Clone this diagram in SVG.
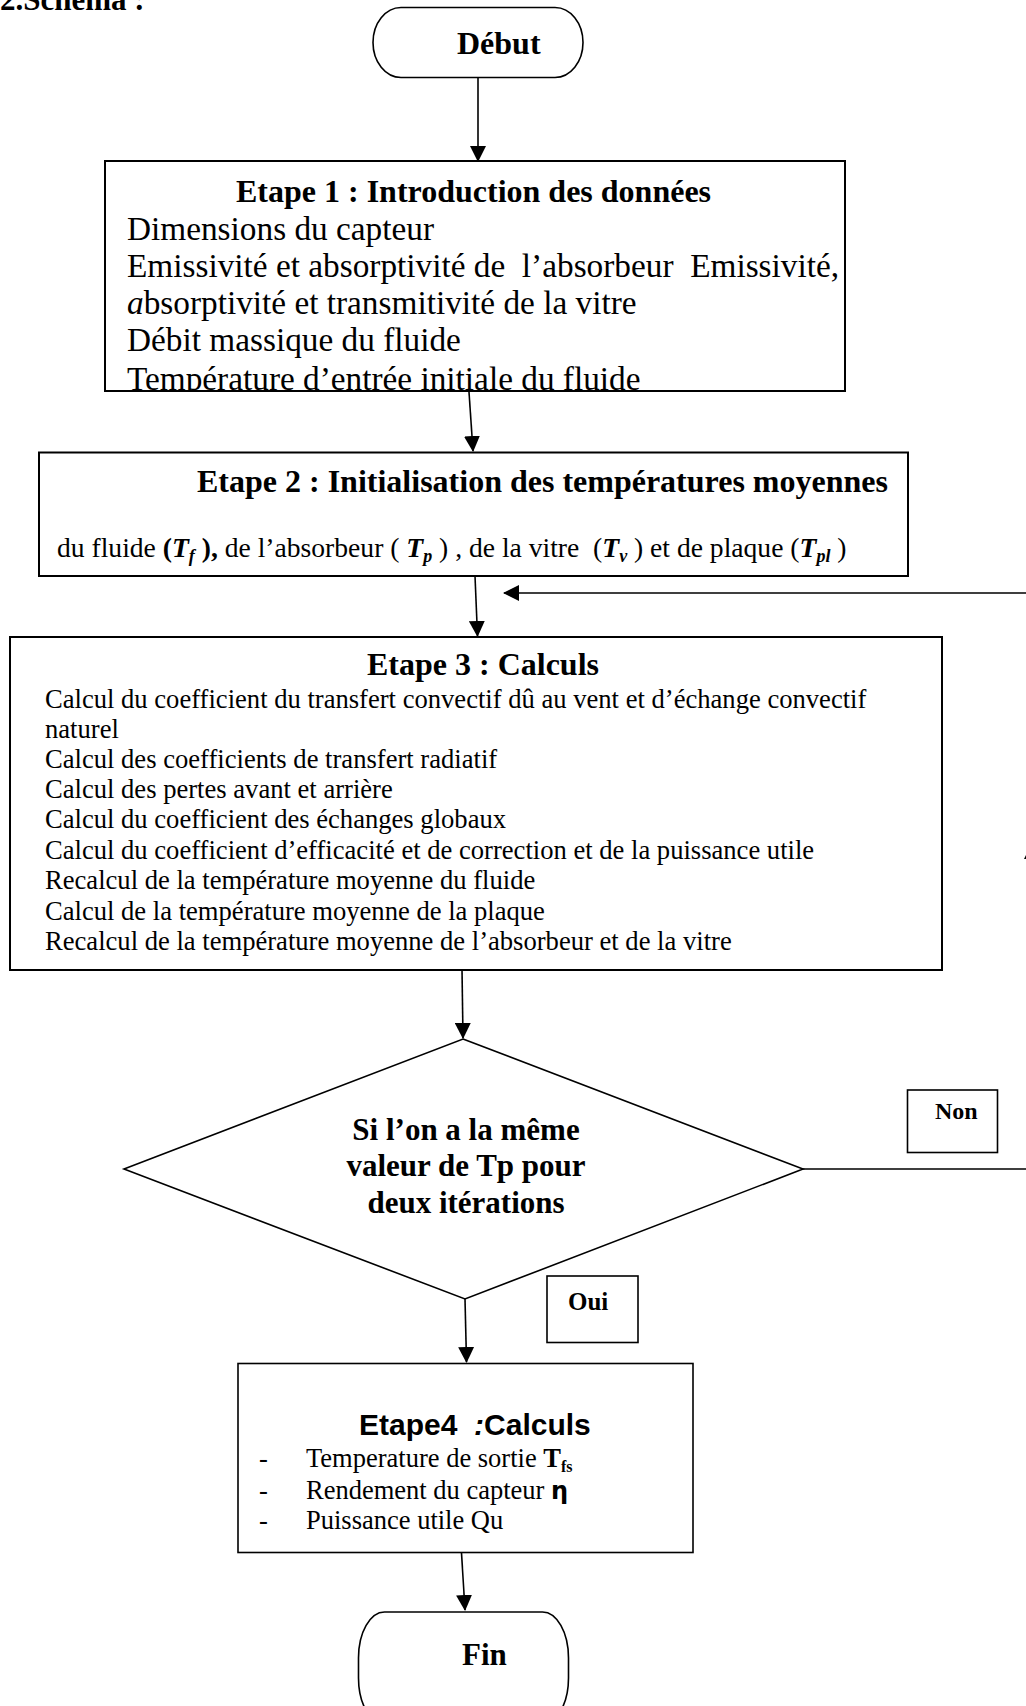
<svg xmlns="http://www.w3.org/2000/svg" width="1026" height="1706" viewBox="0 0 1026 1706">
<style>
.bg{fill:#fff}
.box{fill:#fff;stroke:#000;stroke-width:2}
.thin{fill:#fff;stroke:#000;stroke-width:1.6}
.con{fill:none;stroke:#000;stroke-width:1.6}
.tb{font-family:"Liberation Serif","Times New Roman",serif;font-weight:bold;fill:#000}
.tr{font-family:"Liberation Serif","Times New Roman",serif;fill:#000}
.sans{font-family:"Liberation Sans",Arial,sans-serif;font-weight:bold;fill:#000}
.e1{font-size:33.3px}
.e3{font-size:26.6px}
.e4{font-size:26.5px}
.ttl{font-size:32px}
</style>
<defs>
<marker id="ah" markerUnits="userSpaceOnUse" markerWidth="16" markerHeight="16" viewBox="0 0 16 16" refX="15" refY="8" orient="auto">
<path d="M0,0 L16,8 L0,16 z" fill="#000"/>
</marker>
<clipPath id="clip1"><rect x="100" y="160" width="750" height="232"/></clipPath>
</defs>
<rect class="bg" x="0" y="0" width="1026" height="1706"/>

<text class="tb" x="0" y="10" font-size="31">2.Schema :</text>

<g id="connectors">
<line class="con" x1="478" y1="72" x2="478" y2="161" marker-end="url(#ah)"/>
<line class="con" x1="469" y1="392" x2="473" y2="451" marker-end="url(#ah)"/>
<line class="con" x1="475" y1="576" x2="477.5" y2="636" marker-end="url(#ah)"/>
<line class="con" x1="462" y1="969" x2="463" y2="1038" marker-end="url(#ah)"/>
<line class="con" x1="465" y1="1299" x2="466.5" y2="1362" marker-end="url(#ah)"/>
<line class="con" x1="461.5" y1="1553" x2="465" y2="1610" marker-end="url(#ah)"/>
<polyline class="con" points="803,1169 1032,1169 1032,593 504,593" marker-end="url(#ah)"/>
<path d="M1032,843 L1040,859 L1024,859 z" fill="#000"/>
</g>

<g id="debut">
<rect class="thin" x="373" y="7.5" width="210" height="70" rx="28" ry="35"/>
<text class="tb" x="457" y="54" font-size="32">Début</text>
</g>

<g id="etape1">
<rect class="box" x="105" y="161" width="740" height="230"/>
<text class="tb ttl" x="236" y="202" font-size="32.5">Etape 1 : Introduction des données</text>
<g clip-path="url(#clip1)">
<text class="tr e1" x="127" y="240">Dimensions du capteur</text>
<text class="tr e1" x="127" y="277" xml:space="preserve">Emissivité et absorptivité de  l’absorbeur  Emissivité,</text>
<text class="tr e1" x="127" y="314"><tspan font-style="italic">a</tspan>bsorptivité et transmitivité de la vitre</text>
<text class="tr e1" x="127" y="351">Débit massique du fluide</text>
<text class="tr e1" x="127" y="390">Température d’entrée initiale du fluide</text>
</g>
<line x1="105" y1="391" x2="845" y2="391" stroke="#000" stroke-width="2"/>
</g>

<g id="etape2">
<rect class="box" x="39" y="452.5" width="869" height="123.5"/>
<text class="tb" x="197" y="492" font-size="32">Etape 2 : Initialisation des températures moyennes</text>
<text class="tr" x="57" y="557" font-size="27.6" xml:space="preserve">du fluide <tspan font-weight="bold">(<tspan font-style="italic">T</tspan><tspan font-style="italic" font-size="18" dy="5">f</tspan><tspan dy="-5"> ),</tspan></tspan> de l’absorbeur ( <tspan font-weight="bold" font-style="italic">T</tspan><tspan font-weight="bold" font-style="italic" font-size="18" dy="5">p</tspan><tspan dy="-5"> ) , de la vitre  (</tspan><tspan font-weight="bold" font-style="italic">T</tspan><tspan font-weight="bold" font-style="italic" font-size="18" dy="5">v</tspan><tspan dy="-5"> ) et de plaque (</tspan><tspan font-weight="bold" font-style="italic">T</tspan><tspan font-weight="bold" font-style="italic" font-size="18" dy="5">pl</tspan><tspan dy="-5"> )</tspan></text>
</g>

<g id="etape3">
<rect class="box" x="10" y="637" width="932" height="333"/>
<text class="tb ttl" x="483" y="675" text-anchor="middle">Etape 3 : Calculs</text>
<text class="tr e3" x="45" y="708">Calcul du coefficient du transfert convectif dû au vent et d’échange convectif</text>
<text class="tr e3" x="45" y="738">naturel</text>
<text class="tr e3" x="45" y="768">Calcul des coefficients de transfert radiatif</text>
<text class="tr e3" x="45" y="798">Calcul des pertes avant et arrière</text>
<text class="tr e3" x="45" y="828">Calcul du coefficient des échanges globaux</text>
<text class="tr e3" x="45" y="859">Calcul du coefficient d’efficacité et de correction et de la puissance utile</text>
<text class="tr e3" x="45" y="889">Recalcul de la température moyenne du fluide</text>
<text class="tr e3" x="45" y="920">Calcul de la température moyenne de la plaque</text>
<text class="tr e3" x="45" y="950">Recalcul de la température moyenne de l’absorbeur et de la vitre</text>
</g>

<g id="decision">
<polygon class="thin" points="463,1039 803,1169 465,1299 124,1169"/>
<text class="tb" x="466" y="1140" font-size="31" text-anchor="middle">Si l’on a la même</text>
<text class="tb" x="466" y="1176" font-size="31" text-anchor="middle">valeur de Tp pour</text>
<text class="tb" x="466" y="1213" font-size="31" text-anchor="middle">deux itérations</text>
</g>

<g id="non">
<rect class="thin" x="907.5" y="1090" width="90" height="62.5"/>
<text class="tb" x="935" y="1119" font-size="24">Non</text>
</g>

<g id="oui">
<rect class="thin" x="547" y="1276" width="91" height="66.5"/>
<text class="tb" x="568" y="1310" font-size="25">Oui</text>
</g>

<g id="etape4">
<rect class="thin" x="238" y="1363.5" width="455" height="189"/>
<text class="sans" x="359" y="1435" font-size="30" xml:space="preserve">Etape4  <tspan font-style="italic">:</tspan>Calculs</text>
<text class="tr e4" x="259" y="1467">-</text>
<text class="tr e4" x="306" y="1467">Temperature de sortie <tspan font-weight="bold">T</tspan><tspan font-weight="bold" font-size="16" dy="5">fs</tspan></text>
<text class="tr e4" x="259" y="1499">-</text>
<text class="tr e4" x="306" y="1499">Rendement du capteur <tspan font-family="DejaVu Sans" font-weight="bold" font-size="24">η</tspan></text>
<text class="tr e4" x="259" y="1529">-</text>
<text class="tr e4" x="306" y="1529">Puissance utile Qu</text>
</g>

<g id="fin">
<rect class="thin" x="358.5" y="1612" width="210" height="112" rx="26" ry="46"/>
<text class="tb" x="462" y="1665" font-size="31">Fin</text>
</g>
</svg>
